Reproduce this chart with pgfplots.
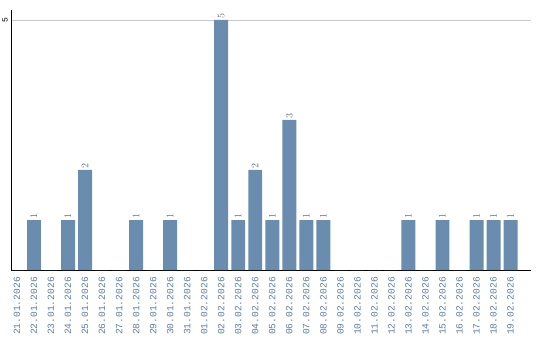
\documentclass[border=0pt]{standalone}
\usepackage{fontspec}
\setmainfont{Liberation Mono}
\usepackage{pgfplots}
\usepackage{pgfplotstable}
\pgfplotsset{compat=1.18}
\definecolor{barc}{RGB}{106,140,175}
\definecolor{labc}{RGB}{95,125,165}
\definecolor{valc}{RGB}{105,110,120}
\definecolor{gridc}{RGB}{200,200,200}
\pgfplotstableread{
x y
0 0
1 1
2 0
3 1
4 2
5 0
6 0
7 1
8 0
9 1
10 0
11 0
12 5
13 1
14 2
15 1
16 3
17 1
18 1
19 0
20 0
21 0
22 0
23 1
24 0
25 1
26 0
27 1
28 1
29 1
}\data
\begin{document}
\begin{tikzpicture}
\useasboundingbox (0,0) rectangle (540pt,340pt);
\begin{axis}[
  at={(11pt,70pt)}, anchor=south west,
  scale only axis, width=520pt, height=260pt,
  xmin=-0.35, xmax=30.2, ymin=0, ymax=5.2,
  axis lines*=left, axis line style={-, black, line width=1pt},
  ybar, bar width=0.82, bar shift=0pt,
  xtick=data,
  xticklabels={21.01.2026,22.01.2026,23.01.2026,24.01.2026,25.01.2026,26.01.2026,27.01.2026,28.01.2026,29.01.2026,30.01.2026,31.01.2026,01.02.2026,02.02.2026,03.02.2026,04.02.2026,05.02.2026,06.02.2026,07.02.2026,08.02.2026,09.02.2026,10.02.2026,11.02.2026,12.02.2026,13.02.2026,14.02.2026,15.02.2026,16.02.2026,17.02.2026,18.02.2026,19.02.2026},
  xticklabel style={rotate=90, anchor=east, font=\fontsize{9.6}{10}\selectfont, text=labc, inner sep=0pt},
  xticklabel shift=7pt,
  ytick={5}, yticklabels={5},
  yticklabel style={rotate=90, anchor=south, font=\fontsize{8}{9}\selectfont, inner sep=0pt},
  yticklabel shift=3pt,
  major tick length=0pt,
  ymajorgrids, grid style={gridc, line width=0.8pt},
  nodes near coords={\pgfmathfloatifflags{\pgfplotspointmeta}{0}{}{\pgfmathprintnumber{\pgfplotspointmeta}}},
  every node near coord/.append style={rotate=90, anchor=west, font=\fontsize{10}{11}\selectfont, text=valc, inner sep=1.5pt},
]
\addplot[fill=barc, draw=none] table[x=x,y=y] {\data};
\end{axis}
\end{tikzpicture}
\end{document}
